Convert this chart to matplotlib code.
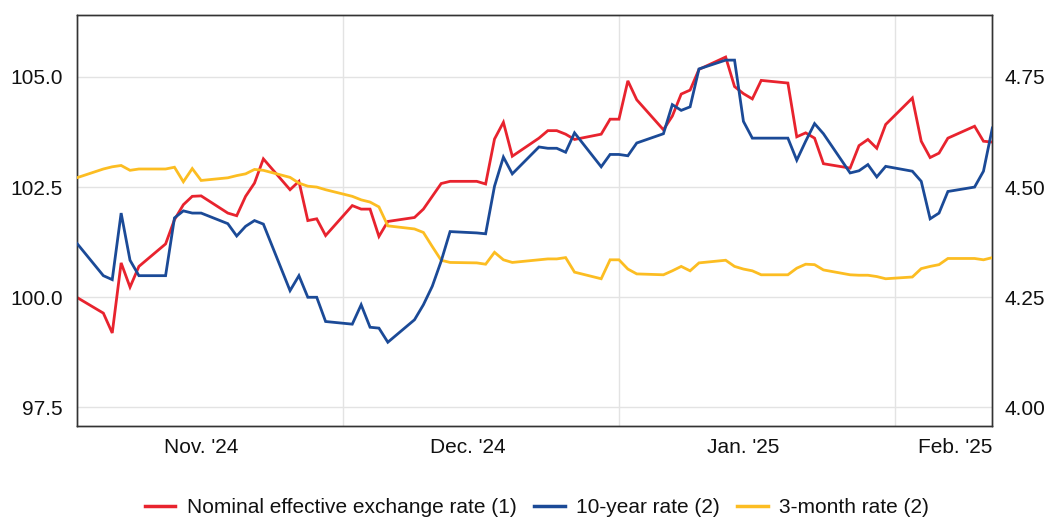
import matplotlib
matplotlib.use("Agg")
import matplotlib.pyplot as plt
import matplotlib.dates as mdates
from matplotlib.lines import Line2D
import pandas as pd

plt.rcParams['font.family'] = ['Liberation Sans', 'DejaVu Sans']

# business days Nov 1 2024 - Feb 12 2025
dates = pd.bdate_range('2024-11-01', '2025-02-12')

neer = [
    100.00, 99.64, 99.19, 100.78, 100.23, 100.70, 101.21, 101.76, 102.10, 102.29, 102.30,
    101.91, 101.85, 102.29, 102.59, 103.14, 102.44, 102.63, 101.74, 101.78, 101.40,
    102.08, 102.00, 102.00, 101.38, 101.72, 101.81, 102.00, 102.29, 102.58, 102.63,
    102.63, 102.57, 103.59, 103.97, 103.20, 103.61, 103.78, 103.78, 103.70, 103.58,
    103.70, 104.04,
    104.04, 104.91, 104.48, 103.80, 104.11, 104.61, 104.70, 105.17, 105.45, 104.78,
    104.62, 104.50, 104.92, 104.86, 103.64, 103.73, 103.61, 103.03, 102.93, 103.44,
    103.58, 103.38, 103.92,
    104.52, 103.54, 103.17, 103.27, 103.61, 103.88, 103.54, 103.52,
]

rate_10y = [
    4.373, 4.299, 4.290, 4.441, 4.334, 4.299, 4.299, 4.430, 4.446, 4.441, 4.441,
    4.417, 4.389, 4.411, 4.424, 4.416, 4.265, 4.299, 4.250, 4.250, 4.195,
    4.189, 4.233, 4.182, 4.180, 4.148, 4.199, 4.233, 4.275, 4.332, 4.399,
    4.396, 4.394, 4.502, 4.568, 4.530, 4.591, 4.588, 4.588, 4.579, 4.623,
    4.546, 4.574,
    4.574, 4.571, 4.600, 4.621, 4.687, 4.674, 4.682, 4.768, 4.788, 4.788,
    4.649, 4.611, 4.611, 4.611, 4.561, 4.604, 4.644, 4.621, 4.532, 4.537,
    4.551, 4.523, 4.547,
    4.536, 4.513, 4.428, 4.441, 4.490, 4.500, 4.536, 4.634,
]

rate_3m = [
    4.521, 4.541, 4.546, 4.549, 4.538, 4.541, 4.541, 4.545, 4.512, 4.542, 4.515,
    4.521, 4.526, 4.530, 4.540, 4.538, 4.522, 4.509, 4.502, 4.500, 4.494,
    4.479, 4.471, 4.466, 4.455, 4.412, 4.405, 4.397, 4.365, 4.334, 4.329,
    4.328, 4.325, 4.352, 4.335, 4.329, 4.335, 4.337, 4.337, 4.340, 4.307,
    4.292, 4.335,
    4.335, 4.314, 4.303, 4.301, 4.310, 4.320, 4.310, 4.328, 4.334, 4.320,
    4.314, 4.310, 4.301, 4.301, 4.316, 4.325, 4.324, 4.312, 4.301, 4.300,
    4.300, 4.297, 4.292,
    4.296, 4.315, 4.320, 4.324, 4.338, 4.338, 4.335, 4.340,
]

series_labels = ['Nominal effective exchange rate (1)', '10-year rate (2)', '3-month rate (2)']
month_labels = ["Nov. '24", "Dec. '24", "Jan. '25", "Feb. '25"]
left_ticks = [97.5, 100.0, 102.5, 105.0]
right_ticks = [4.00, 4.25, 4.50, 4.75]

RED = '#e8232e'
BLUE = '#1b4a97'
YELLOW = '#fcbd22'
TXT = '#111111'
FS = 15

fig = plt.figure(figsize=(10.49, 5.20), dpi=100)
ax = fig.add_axes([0.0731, 0.1808, 0.946 - 0.0731, 0.9717 - 0.1808])
ax2 = ax.twinx()

lw = 2.0
ax.plot(dates, neer, color=RED, lw=lw, solid_joinstyle='miter', zorder=3)
ax2.plot(dates, rate_3m, color=YELLOW, lw=lw, solid_joinstyle='miter', zorder=3)
ax2.plot(dates, rate_10y, color=BLUE, lw=lw, solid_joinstyle='miter', zorder=4)

x0, x1 = dates[0], dates[-1]
ax.set_xlim(x0, x1)
ax.set_ylim(97.08, 106.41)
ax2.set_ylim(4 + (97.08 - 97.5) * 0.1, 4 + (106.41 - 97.5) * 0.1)

ax.set_yticks(left_ticks)
ax.set_yticklabels([f'{v:.1f}' for v in left_ticks])
ax2.set_yticks(right_ticks)
ax2.set_yticklabels([f'{v:.2f}' for v in right_ticks])

# month boundaries (grid) and mid-month labels
month_starts = pd.to_datetime(['2024-12-01', '2025-01-01', '2025-02-01'])
label_pos = list(pd.to_datetime(['2024-11-15', '2024-12-15', '2025-01-15'])) + [x1]
ax.set_xticks(mdates.date2num(month_starts), minor=True)
ax.set_xticks(mdates.date2num(label_pos))
ax.set_xticklabels(month_labels)
ax.get_xticklabels()[-1].set_ha('right')

ax.grid(True, which='minor', axis='x', color='#e3e3e3', lw=1.0)
ax.grid(True, which='major', axis='y', color='#e3e3e3', lw=1.0)
ax.grid(False, which='major', axis='x')
ax.set_axisbelow(True)

for a in (ax, ax2):
    a.tick_params(axis='both', which='both', length=0, labelsize=FS, labelcolor=TXT)
    for s in a.spines.values():
        s.set_color('#333333')
        s.set_linewidth(1.0)
ax.tick_params(axis='y', pad=10)
ax.tick_params(axis='x', pad=9)
ax2.tick_params(axis='y', pad=9)

handles = [Line2D([], [], color=c, lw=2.5) for c in (RED, BLUE, YELLOW)]
fig.legend(handles, series_labels, loc='lower center', bbox_to_anchor=(0.512, -0.03),
           ncol=3, frameon=False, fontsize=FS, handlelength=1.45, handletextpad=0.55,
           columnspacing=0.85, labelcolor=TXT)

fig.savefig('out.png', dpi=100)
